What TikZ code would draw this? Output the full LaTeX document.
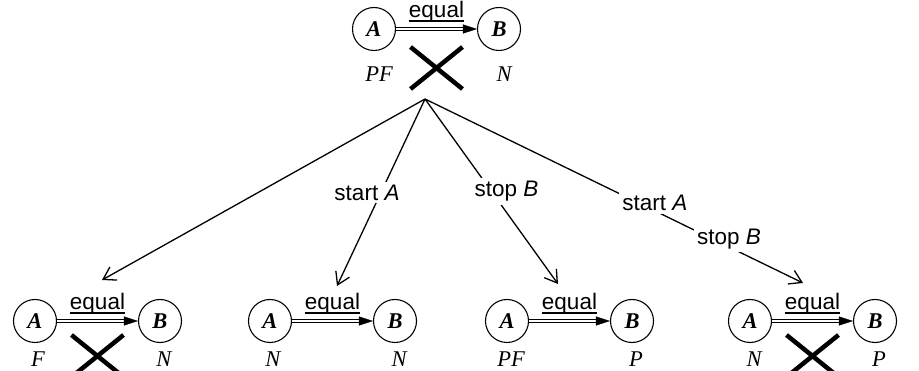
\documentclass[tikz,border=0pt]{standalone}
\usepackage{fontspec}
\setmainfont{Liberation Serif}
\setsansfont{Liberation Sans}
\usetikzlibrary{arrows.meta,decorations.markings}
\tikzset{
  circ/.style={circle, draw, line width=1.1pt, minimum size=43pt, inner sep=0pt,
    font=\fontsize{22.5}{27}\selectfont\bfseries\itshape},
  lbl/.style={anchor=base, inner sep=0pt, font=\fontsize{22.5}{27}\selectfont\itshape},
  eqtext/.style={inner sep=0pt, text depth=3pt, font=\fontsize{22.5}{27}\selectfont\sffamily},
  ulin/.style={line width=1.6pt},
  eqshaft/.style={double, double distance=1.5pt, line width=0.8pt, shorten >=8pt},
  eqtip/.style={decorate, decoration={markings, mark=at position 1 with {\arrow{Triangle[length=14pt,width=9pt]}}}},
  crossline/.style={line width=4.5pt},
  treearrow/.style={line width=1.3pt, -{Straight Barb[length=12pt,width=15pt,line width=1.3pt]}},
  arrlbl/.style={fill=white, inner sep=3pt, font=\fontsize{22.5}{27}\selectfont\sffamily}
}
\begin{document}
\begin{tikzpicture}[x=1pt,y=-1pt]
\useasboundingbox (0,0) rectangle (919,371);
% top group
\node[circ] (ta) at (374,29) {A};
\node[circ] (tb) at (499,29) {B};
\draw[eqshaft] (ta) -- (tb) node[midway, above=8pt, eqtext] (te) {equal};
\draw[eqtip] (ta) -- (tb);
\draw[ulin] (te.south west) -- (te.south east);
\draw[crossline] (410.5,47) -- (462.5,89) (410.5,89) -- (462.5,47);
\node[lbl] (tl1) at (379,82) {PF};
\node[lbl] (tl2) at (504,82) {N};
% root and tips
\coordinate (root) at (425,99);
\coordinate (t1) at (102,280);
\coordinate (t2) at (337,286);
\coordinate (t3) at (558,284);
\coordinate (t4) at (803,283);
\draw[treearrow] (root) -- (t1);
\draw[treearrow] (root) -- (t2) node[pos=0.5, xshift=-14pt, arrlbl] (s2) {start \textit{A}};
\draw[treearrow] (root) -- (t3) node[pos=0.5, xshift=15pt, arrlbl] (s3) {stop \textit{B}};
\draw[treearrow] (root) -- (t4)
  node[pos=0.608, yshift=8pt, arrlbl] (s4a) {start \textit{A}}
  node[pos=0.804, yshift=8pt, arrlbl] (s4b) {stop \textit{B}};
% bottom group 1
\node[circ] (a1) at (35,321) {A};
\node[circ] (b1) at (160,321) {B};
\draw[eqshaft] (a1) -- (b1) node[midway, above=8pt, eqtext] (e1) {equal};
\draw[eqtip] (a1) -- (b1);
\draw[ulin] (e1.south west) -- (e1.south east);
\draw[crossline] (71.5,335) -- (123.5,377) (71.5,377) -- (123.5,335);
\node[lbl] (l1a) at (38,367) {F};
\node[lbl] (l1b) at (164,367) {N};
% bottom group 2
\node[circ] (a2) at (270,321) {A};
\node[circ] (b2) at (395,321) {B};
\draw[eqshaft] (a2) -- (b2) node[midway, above=8pt, eqtext] (e2) {equal};
\draw[eqtip] (a2) -- (b2);
\draw[ulin] (e2.south west) -- (e2.south east);
\node[lbl] (l2a) at (273,367) {N};
\node[lbl] (l2b) at (399,367) {N};
% bottom group 3
\node[circ] (a3) at (507,321) {A};
\node[circ] (b3) at (632,321) {B};
\draw[eqshaft] (a3) -- (b3) node[midway, above=8pt, eqtext] (e3) {equal};
\draw[eqtip] (a3) -- (b3);
\draw[ulin] (e3.south west) -- (e3.south east);
\node[lbl] (l3a) at (511,367) {PF};
\node[lbl] (l3b) at (636,367) {P};
% bottom group 4
\node[circ] (a4) at (750,321) {A};
\node[circ] (b4) at (875,321) {B};
\draw[eqshaft] (a4) -- (b4) node[midway, above=8pt, eqtext] (e4) {equal};
\draw[eqtip] (a4) -- (b4);
\draw[ulin] (e4.south west) -- (e4.south east);
\draw[crossline] (786.5,335) -- (838.5,377) (786.5,377) -- (838.5,335);
\node[lbl] (l4a) at (754,367) {N};
\node[lbl] (l4b) at (879,367) {P};
\end{tikzpicture}
\end{document}
